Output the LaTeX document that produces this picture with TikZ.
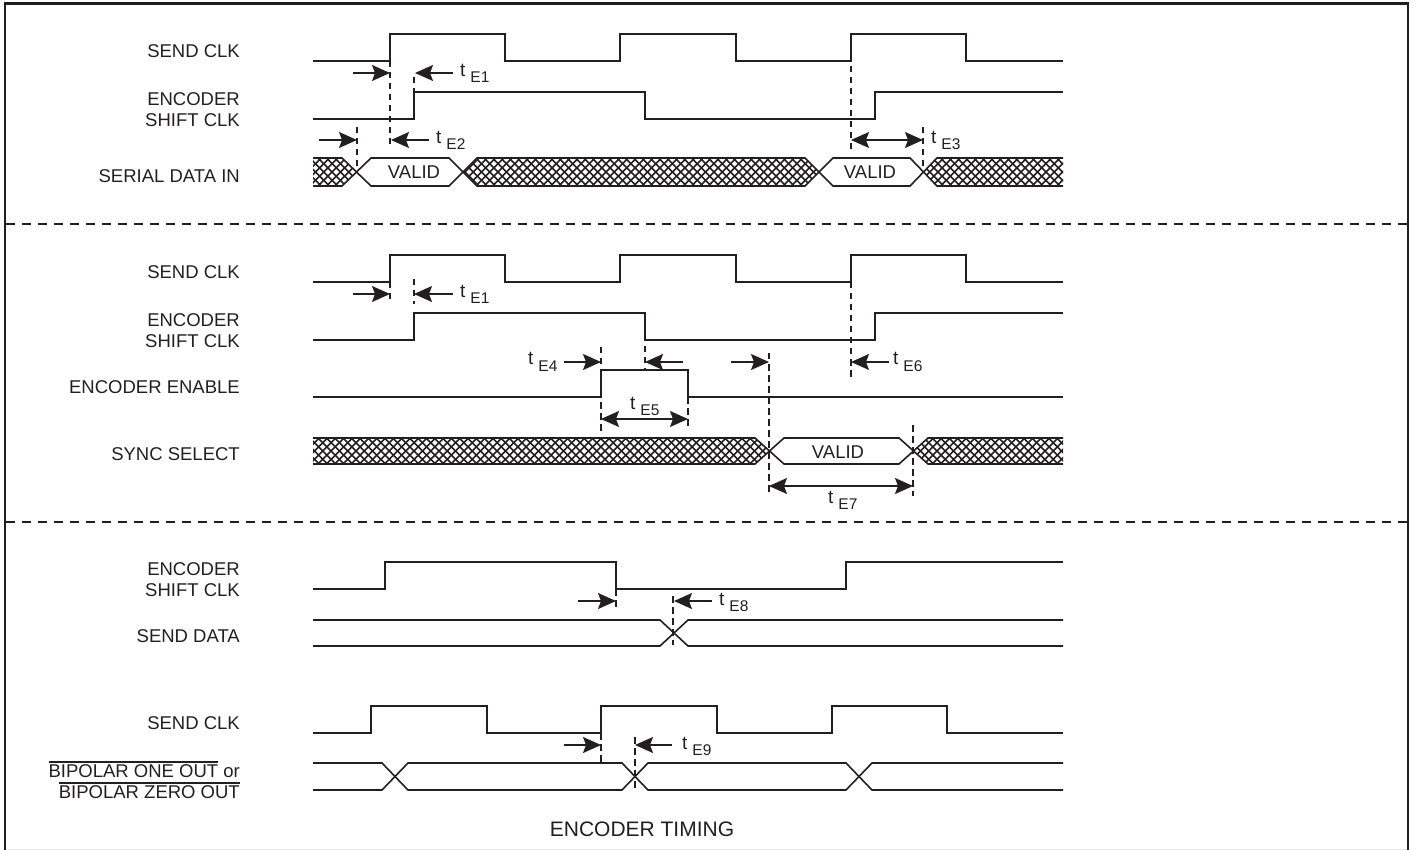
\documentclass[tikz,border=0pt]{standalone}
\usepackage{fontspec}
\setmainfont{Liberation Sans}
\usetikzlibrary{arrows.meta}
\definecolor{ink}{HTML}{231F20}
\tikzset{
  wave/.style={line width=1.6pt,line join=miter},
  guide/.style={line width=1.3pt,dash pattern=on 6.5pt off 4.5pt},
  divider/.style={line width=1.3pt,dash pattern=on 8.5pt off 7.5pt},
  timearrow/.style={line width=1.4pt,-{Stealth[length=18pt,width=16pt,inset=3pt]}},
  spanarrow/.style={line width=1.4pt,{Stealth[length=18pt,width=16pt,inset=3pt]}-{Stealth[length=18pt,width=16pt,inset=3pt]}},
  signal/.style={anchor=east,align=right,inner sep=0pt,font=\fontsize{18.5}{21}\selectfont},
  barsignal/.style={anchor=base east,inner sep=0pt,font=\fontsize{18.5}{21}\selectfont},
  valid/.style={inner sep=0pt,font=\fontsize{18.5}{21}\selectfont},
  caption/.style={inner sep=0pt,font=\fontsize{21}{24}\selectfont},
  tlabel/.style={anchor=base west,inner sep=0pt,font=\fontsize{19}{21}\selectfont}
}
\newcommand{\tsub}[1]{t\hspace{5pt}\raisebox{-6pt}{\fontsize{15.5}{18}\selectfont E#1}}
\newcommand{\barred}[1]{\setbox0\hbox{#1}\rlap{\rule[14.3pt]{\wd0}{1.6pt}}\box0{}}
% crosshatch inside a closed outline: top y, bottom y, outline
\newcommand{\hatchband}[3]{
  \begin{scope}
    \clip #3;
    \foreach \hx in {260,268.3,...,1090} {
      \draw[line width=1.6pt] (\hx,#1) -- ++(#2-#1,#2-#1);
      \draw[line width=1.6pt] (\hx,#2) -- ++(#2-#1,#1-#2);
    }
  \end{scope}
}
\begin{document}
\begin{tikzpicture}[x=1pt,y=-1pt,color=ink]
\useasboundingbox (0,0) rectangle (1414,850);

% frame
\draw[gray!20,line width=1pt] (5,849.5) -- (1408,849.5);
\draw[line width=2.8pt] (5,850) -- (5,3.5) -- (1408,3.5) -- (1408,850);
\draw[divider] (6,224) -- (1407,224);
\draw[divider] (6,522) -- (1407,522);

% first block
\node(sendA) [signal] at (240,51) {SEND CLK};
\node(shiftA) [signal] at (240,110) {ENCODER\\SHIFT CLK};
\node(serial) [signal] at (240,176) {SERIAL DATA IN};
\draw[wave] (313,61) -- (390,61) -- (390,34) -- (505,34) -- (505,61) -- (620,61) -- (620,34) -- (736,34) -- (736,61) -- (851,61) -- (851,34) -- (966,34) -- (966,61) -- (1063,61);
\draw[wave] (313,119) -- (414,119) -- (414,92) -- (645,92) -- (645,119) -- (875,119) -- (875,92) -- (1063,92);
\hatchband{158}{186}{(313,158) -- (342,158) -- (357,172) -- (342,186) -- (313,186) -- cycle}
\hatchband{158}{186}{(477,158) -- (463,172) -- (477,186) -- (805,186) -- (819,172) -- (805,158) -- cycle}
\hatchband{158}{186}{(937,158) -- (923,172) -- (937,186) -- (1063,186) -- (1063,158) -- cycle}
\draw[wave] (313,158) -- (342,158) -- (371,186) -- (449,186) -- (477,158) -- (805,158) -- (833,186) -- (910,186) -- (937,158) -- (1063,158);
\draw[wave] (313,186) -- (342,186) -- (371,158) -- (449,158) -- (477,186) -- (805,186) -- (833,158) -- (910,158) -- (937,186) -- (1063,186);
\node(validA) [valid] at (414,172) {VALID};
\node(validB) [valid] at (870,172) {VALID};

% second block
\node(sendB) [signal] at (240,272) {SEND CLK};
\node(shiftB) [signal] at (240,331) {ENCODER\\SHIFT CLK};
\node(enable) [signal] at (240,387) {ENCODER ENABLE};
\node(sync) [signal] at (240,454) {SYNC SELECT};
\draw[wave] (313,282) -- (390,282) -- (390,255) -- (505,255) -- (505,282) -- (620,282) -- (620,255) -- (736,255) -- (736,282) -- (851,282) -- (851,255) -- (966,255) -- (966,282) -- (1063,282);
\draw[wave] (313,340) -- (414,340) -- (414,313) -- (645,313) -- (645,340) -- (875,340) -- (875,313) -- (1063,313);
\draw[wave] (313,397) -- (601,397) -- (601,370) -- (688,370) -- (688,397) -- (1063,397);
\hatchband{438}{464}{(313,438) -- (755,438) -- (769,451) -- (755,464) -- (313,464) -- cycle}
\hatchband{438}{464}{(928,438) -- (913,451) -- (928,464) -- (1063,464) -- (1063,438) -- cycle}
\draw[wave] (313,438) -- (755,438) -- (784,464) -- (899,464) -- (928,438) -- (1063,438);
\draw[wave] (313,464) -- (755,464) -- (784,438) -- (899,438) -- (928,464) -- (1063,464);
\node(validC) [valid] at (838,452) {VALID};

% third block
\node(shiftC) [signal] at (240,580) {ENCODER\\SHIFT CLK};
\node(senddata) [signal] at (240,636) {SEND DATA};
\draw[wave] (313,589) -- (385,589) -- (385,562) -- (616,562) -- (616,589) -- (846,589) -- (846,562) -- (1063,562);
\draw[wave] (313,620) -- (660,620) -- (688,646) -- (1063,646);
\draw[wave] (313,646) -- (660,646) -- (688,620) -- (1063,620);

% fourth block
\node(sendC) [signal] at (240,723) {SEND CLK};
\node(bipone) [barsignal] at (240,777) {\barred{BIPOLAR ONE OUT} or};
\node(bipzero) [barsignal] at (240,798) {\barred{BIPOLAR ZERO OUT}};
\draw[wave] (313,733) -- (371,733) -- (371,706) -- (487,706) -- (487,733) -- (601,733) -- (601,706) -- (717,706) -- (717,733) -- (832,733) -- (832,706) -- (947,706) -- (947,733) -- (1063,733);
\draw[wave] (313,763) -- (382,763) -- (408,790) -- (622,790) -- (648,763) -- (846,763) -- (872,790) -- (1063,790);
\draw[wave] (313,790) -- (382,790) -- (408,763) -- (622,763) -- (648,790) -- (846,790) -- (872,763) -- (1063,763);
\node(title) [caption] at (642,829) {ENCODER TIMING};

% guide lines
\foreach \gx/\gya/\gyb in {390/61/149,414/77/92,357/127/170,851/66/149,923/127/170,
  390/282/304,414/279/304,601/347/431,645/346/370,688/397/429,769/353/495,851/282/380,913/425/496,
  616/589/611,673/596/645,601/733/762,635/737/792} {
  \draw[guide] (\gx,\gya) -- (\gx,\gyb);
}

% arrows into the guides
\foreach \nm/\ax/\bx/\ay in {aA/353/390/73,bA/453/415/73,aB/319/357/140,bB/429/391/140,
  aC/353/390/294,bC/453/414/294,aD/564/601/362,bD/683/645/362,aF/731/769/362,bF/889/851/362,
  aH/578/616/601,bH/712/674/601,aI/564/601/745,bI/672/635/745} {
  \coordinate (\nm tail) at (\ax,\ay);
  \coordinate (\nm tip) at (\bx,\ay);
  \draw[timearrow] (\nm tail) -- (\nm tip);
}
\foreach \nm/\ax/\bx/\ay in {spanE/851/923/140,spanG/601/688/419,spanJ/769/913/486} {
  \coordinate (\nm a) at (\ax,\ay);
  \coordinate (\nm b) at (\bx,\ay);
  \draw[spanarrow] (\nm a) -- (\nm b);
}

% timing labels
\node(tEa) [tlabel] at (460,77) {\tsub{1}};
\node(tEb) [tlabel] at (436,144) {\tsub{2}};
\node(tEc) [tlabel] at (931,144) {\tsub{3}};
\node(tEd) [tlabel] at (460,298) {\tsub{1}};
\node(tEe) [tlabel] at (528,365) {\tsub{4}};
\node(tEf) [tlabel] at (630,409) {\tsub{5}};
\node(tEg) [tlabel] at (893,365) {\tsub{6}};
\node(tEh) [tlabel] at (828,503) {\tsub{7}};
\node(tEi) [tlabel] at (719,605) {\tsub{8}};
\node(tEj) [tlabel] at (682,749) {\tsub{9}};
\end{tikzpicture}
\end{document}
